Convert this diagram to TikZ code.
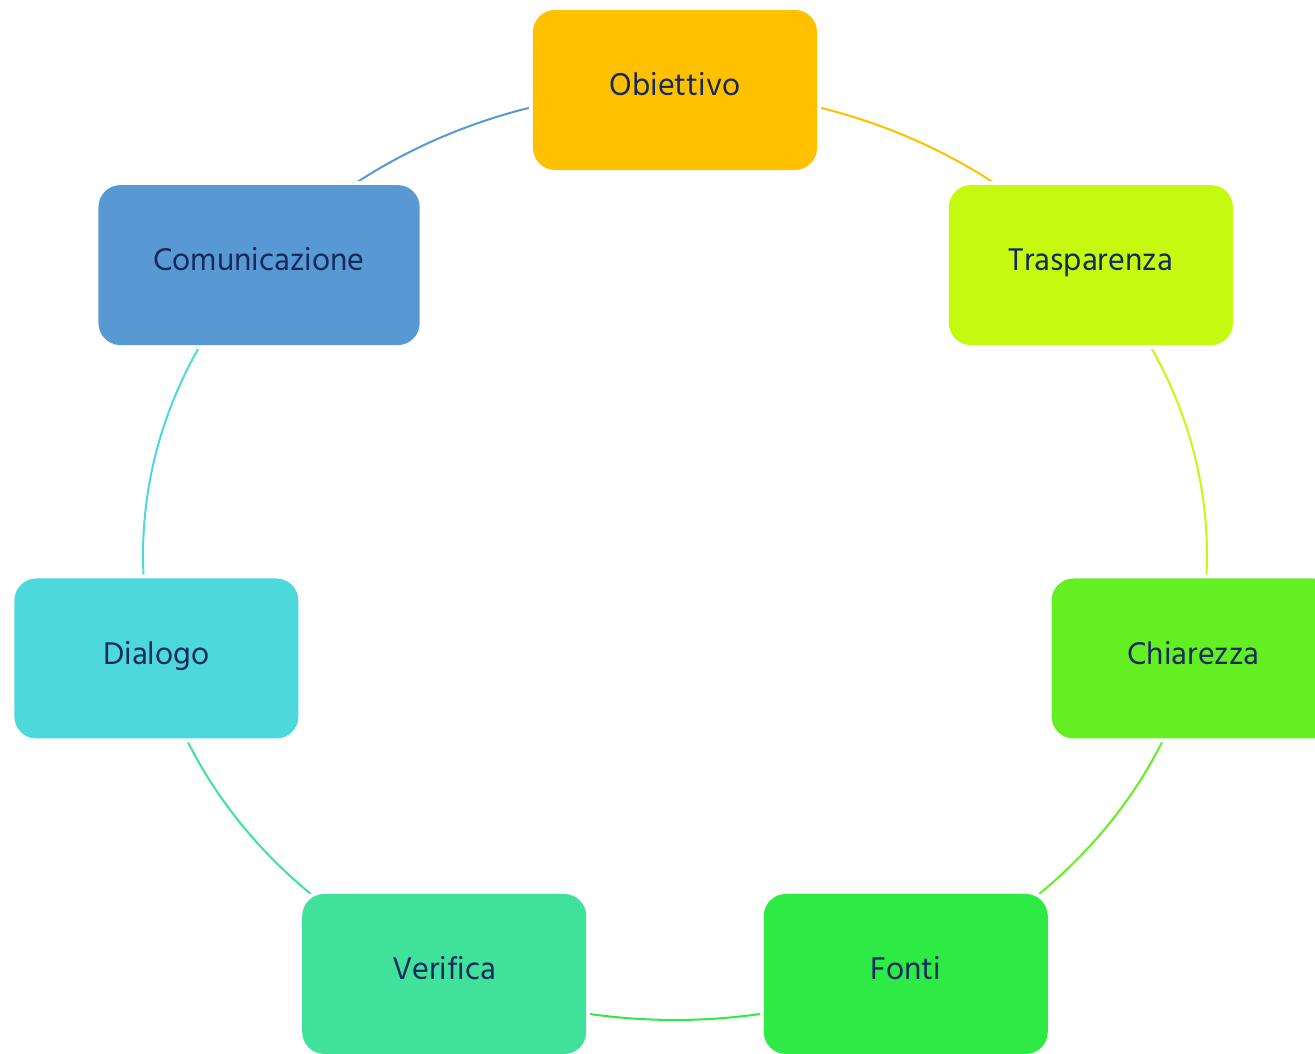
\documentclass[tikz,border=0pt]{standalone}
\usepackage{fontspec}
\setmainfont{Hind Siliguri}
\usetikzlibrary{backgrounds}
\definecolor{cobj}{HTML}{FFC000}
\definecolor{ctra}{HTML}{C5F90F}
\definecolor{cchi}{HTML}{64EF22}
\definecolor{cfon}{HTML}{2EEA44}
\definecolor{cver}{HTML}{3FE19B}
\definecolor{cdia}{HTML}{4DD9DB}
\definecolor{ccom}{HTML}{5899D4}
\definecolor{navy}{HTML}{14295E}
\begin{document}
\begin{tikzpicture}[
		box/.style={fill=#1,rounded corners=0.44cm,minimum width=5.68cm,minimum height=3.2cm,inner xsep=1.1cm,text=navy,font=\fontsize{18.3}{20}\selectfont,text height=0.7em,text depth=0.06em,preaction={draw=white,line width=0.16cm}},
		link/.style={draw=#1,line width=0.04cm}]
		\useasboundingbox (-13.5,-9.96) rectangle (12.8,11.1);
		\node[box=cobj](obj) at (90:10.64 and 9.30){Obiettivo};
		\node[box=ctra](tra) at (38.57:10.64 and 9.30){Trasparenza};
		\node[box=cchi](chi) at (-12.86:10.64 and 9.30){Chiarezza};
		\node[box=cfon](fon) at (-64.29:10.64 and 9.30){Fonti};
		\node[box=cver](ver) at (-115.71:10.64 and 9.30){Verifica};
		\node[box=cdia](dia) at (-167.14:10.64 and 9.30){Dialogo};
		\node[box=ccom](com) at (141.43:10.64 and 9.30){Comunicazione};
		\begin{pgfonlayer}{background}
			\draw[link=cobj](obj.center) arc[start angle=90,end angle=38.57,x radius=10.64,y radius=9.30];
			\draw[link=ctra](tra.center) arc[start angle=38.57,end angle=-12.86,x radius=10.64,y radius=9.30];
			\draw[link=cchi](chi.center) arc[start angle=-12.86,end angle=-64.29,x radius=10.64,y radius=9.30];
			\draw[link=cfon](fon.center) arc[start angle=-64.29,end angle=-115.71,x radius=10.64,y radius=9.30];
			\draw[link=cver](ver.center) arc[start angle=-115.71,end angle=-167.14,x radius=10.64,y radius=9.30];
			\draw[link=cdia](dia.center) arc[start angle=-167.14,end angle=-218.57,x radius=10.64,y radius=9.30];
			\draw[link=ccom](com.center) arc[start angle=141.43,end angle=90,x radius=10.64,y radius=9.30];
		\end{pgfonlayer}
	\end{tikzpicture}
\end{document}
